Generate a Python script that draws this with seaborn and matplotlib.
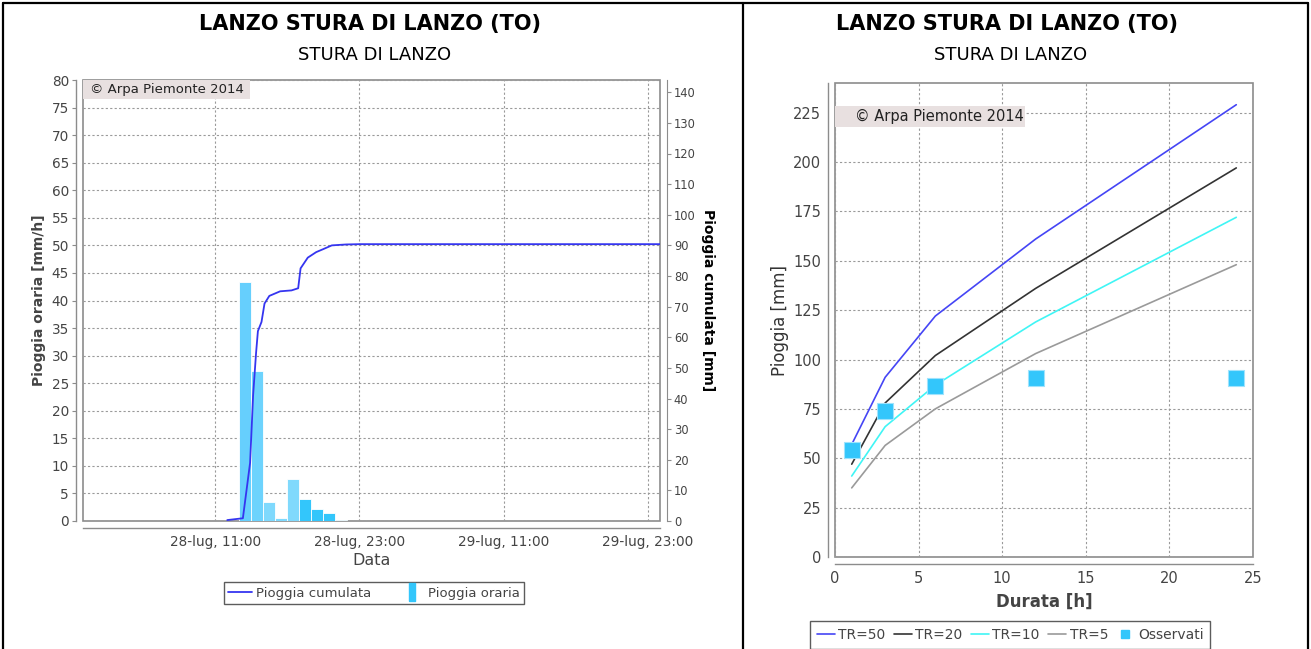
import numpy as np
import pandas as pd
import matplotlib
matplotlib.use("Agg")
import matplotlib.pyplot as plt
import matplotlib.dates as mdates
from matplotlib.lines import Line2D
from matplotlib.patches import Rectangle
import seaborn as sns

# ---------------- data ----------------
title = "LANZO STURA DI LANZO (TO)"
subtitle = "STURA DI LANZO"
copyright_text = "© Arpa Piemonte 2014"

x_start = "2014-07-28 00:00"
x_end = "2014-07-30 00:00"

bar_start_times = ["2014-07-28 13:00", "2014-07-28 14:00", "2014-07-28 15:00",
                   "2014-07-28 16:00", "2014-07-28 17:00", "2014-07-28 18:00",
                   "2014-07-28 19:00", "2014-07-28 20:00", "2014-07-28 21:00"]
hourly_rain = [43.4, 27.2, 3.5, 0.6, 7.6, 4.0, 2.2, 1.5, 0.2]

cum_times = ["2014-07-28 12:00", "2014-07-28 13:18", "2014-07-28 13:54",
             "2014-07-28 14:09", "2014-07-28 14:24", "2014-07-28 14:33",
             "2014-07-28 14:51", "2014-07-28 15:06", "2014-07-28 15:30",
             "2014-07-28 16:24", "2014-07-28 17:21", "2014-07-28 17:54",
             "2014-07-28 18:06", "2014-07-28 18:42", "2014-07-28 19:24",
             "2014-07-28 20:00", "2014-07-28 20:42", "2014-07-28 21:54",
             "2014-07-28 23:00", "2014-07-30 00:00"]
cum_rain = [0.3, 0.9, 19.0, 41.0, 55.0, 62.0, 65.0, 71.0, 73.5, 75.0, 75.3,
            76.0, 82.5, 86.0, 87.8, 88.8, 90.0, 90.3, 90.4, 90.4]

xtick_times = ["2014-07-28 11:00", "2014-07-28 23:00",
               "2014-07-29 11:00", "2014-07-29 23:00"]
xtick_labels = ["28-lug, 11:00", "28-lug, 23:00", "29-lug, 11:00", "29-lug, 23:00"]

durations = [1, 3, 6, 12, 24]
tr50 = [57, 91, 122, 161, 229]
tr20 = [47, 78, 102, 136, 197]
tr10 = [41, 66, 87, 119, 172]
tr5 = [35, 56.5, 75, 103, 148]
observed = [54, 74, 86.5, 90.4, 90.4]
tr_labels = ["TR=50", "TR=20", "TR=10", "TR=5"]
obs_label = "Osservati"

# ---------------- style ----------------
sns.set_style("white")
plt.rcParams["font.family"] = ["DejaVu Sans"]
W, H = 1311, 649
fig = plt.figure(figsize=(W / 100, H / 100), dpi=100)

frame_col = "#8c8c8c"
grid_kw = dict(color="#9a9a9a", linestyle=(0, (2, 2)), linewidth=0.8)
tick_col = "#444444"
bar_colors = ["#66cffd", "#6dd3fd", "#7fd9fd", "#7fd9fd", "#80d9fc",
              "#33c6fb", "#33c6fb", "#33c6fb", "#33c6fb"]


def fig_axes(x0, y0, x1, y1):
    return fig.add_axes([x0 / W, 1 - y1 / H, (x1 - x0) / W, (y1 - y0) / H])


def frame(ax):
    ax.patch.set_edgecolor(frame_col)
    ax.patch.set_linewidth(1.2)
    for s in ["top", "right"]:
        ax.spines[s].set_visible(False)
    for s in ["left", "bottom"]:
        ax.spines[s].set_position(("outward", 5))
        ax.spines[s].set_color(frame_col)
        ax.spines[s].set_linewidth(1.0)
    ax.tick_params(colors=frame_col, labelcolor=tick_col, length=3, width=0.8, pad=2)


# ---------------- left chart ----------------
axL = fig_axes(83, 80, 660, 521)
frame(axL)
bx = mdates.date2num(pd.to_datetime(bar_start_times))
axL.bar(bx, hourly_rain, width=1 / 24, align="edge", color=bar_colors,
        edgecolor="white", linewidth=0.6, zorder=2)
axL.set_ylim(0, 80)
axL.set_yticks(np.arange(0, 81, 5))
axL.set_xlim(mdates.date2num(pd.Timestamp(x_start)), mdates.date2num(pd.Timestamp(x_end)))
axL.set_xticks(mdates.date2num(pd.to_datetime(xtick_times)))
axL.set_xticklabels(xtick_labels)
axL.tick_params(labelsize=9.8)
axL.grid(True, **grid_kw)
axL.set_axisbelow(True)
axL.set_xlabel("Data", fontsize=11.5, color=tick_col, labelpad=3)
axL.set_ylabel("Pioggia oraria [mm/h]", fontsize=10, fontweight="bold",
               color=tick_col, labelpad=4)

axR = axL.twinx()
for s in ["top", "left", "bottom"]:
    axR.spines[s].set_visible(False)
axR.spines["right"].set_position(("outward", 5))
axR.spines["right"].set_color(frame_col)
cx = mdates.date2num(pd.to_datetime(cum_times))
sns.lineplot(x=cx, y=cum_rain, ax=axR, color="#3535f0", linewidth=1.3)
axR.set_ylim(0, 144)
axR.set_yticks(np.arange(0, 141, 10))
axR.tick_params(colors=frame_col, labelcolor=tick_col, length=3, width=0.8,
                labelsize=8.3, pad=2)
axR.set_ylabel("Pioggia cumulata [mm]", rotation=270, fontsize=10,
               fontweight="bold", color="black", labelpad=14)
axR.grid(False)

axL.add_patch(Rectangle((0, 0.957), 0.289, 0.043, transform=axL.transAxes,
                        facecolor="#e8e0e0", edgecolor="none", zorder=1))
axL.text(0.012, 0.978, copyright_text, transform=axL.transAxes, fontsize=9.5,
         color="#222222", va="center", ha="left", zorder=3)

# ---------------- right chart ----------------
axD = fig_axes(835, 83, 1253, 557)
frame(axD)
colors_tr = ["#4545f5", "#333333", "#40f5f5", "#9a9a9a"]
for vals, lab, col in zip([tr50, tr20, tr10, tr5], tr_labels, colors_tr):
    sns.lineplot(x=durations, y=vals, ax=axD, color=col, linewidth=1.2, label=lab)
sns.scatterplot(x=durations, y=observed, ax=axD, marker="s", s=120,
                color="#33c6fb", edgecolor="#9fe3fd", linewidth=0.8,
                zorder=5, label=obs_label)
axD.get_legend().remove()
axD.set_xlim(0, 25)
axD.set_ylim(0, 240)
axD.set_xticks(np.arange(0, 26, 5))
axD.set_yticks(np.arange(0, 226, 25))
axD.tick_params(labelsize=10.5)
axD.grid(True, **grid_kw)
axD.set_axisbelow(True)
axD.set_xlabel("Durata [h]", fontsize=12, fontweight="bold", color=tick_col, labelpad=5)
axD.set_ylabel("Pioggia [mm]", fontsize=12, color="#333333", labelpad=3)
axD.add_patch(Rectangle((0, 0.907), 0.455, 0.044, transform=axD.transAxes,
                        facecolor="#e8e0e0", edgecolor="none", zorder=1))
axD.text(0.048, 0.929, copyright_text, transform=axD.transAxes, fontsize=10.5,
         color="#222222", va="center", ha="left", zorder=3)

# ---------------- titles ----------------
for cx_, cx2 in [(370, 375), (1007, 1011)]:
    fig.text(cx_ / W, 1 - 24 / H, title, ha="center", va="center",
             fontsize=15, fontweight="heavy", color="black")
    fig.text(cx2 / W, 1 - 55 / H, subtitle, ha="center", va="center",
             fontsize=13, color="black")

# ---------------- legends ----------------
rect_marker = [(-0.35, -1), (0.35, -1), (0.35, 1), (-0.35, 1), (-0.35, -1)]
hL = [Line2D([], [], color="#3535f0", lw=1.3),
      Line2D([], [], linestyle="none", marker=rect_marker, markersize=13,
             markerfacecolor="#33c6fb", markeredgecolor="#33c6fb")]
legL = fig.legend(hL, ["Pioggia cumulata", "Pioggia oraria"], loc="center",
                  bbox_to_anchor=(374 / W, 1 - 593 / H), ncol=2, frameon=True,
                  fancybox=False, fontsize=9.5, handlelength=1.8,
                  handletextpad=0.3, columnspacing=2.2, borderpad=0.35,
                  borderaxespad=0)
legL.get_frame().set_edgecolor("#333333")
legL.get_frame().set_linewidth(1.0)
for t in legL.get_texts():
    t.set_color(tick_col)

hR = [Line2D([], [], color=c, lw=1.2) for c in colors_tr] + \
     [Line2D([], [], linestyle="none", marker="s", markersize=6,
             markerfacecolor="#33c6fb", markeredgecolor="#33c6fb")]
legR = fig.legend(hR, tr_labels + [obs_label], loc="upper center",
                  bbox_to_anchor=(1010 / W, 1 - 621 / H), ncol=5, frameon=True,
                  fancybox=False, fontsize=10, handlelength=1.3,
                  handletextpad=0.25, columnspacing=0.6, borderpad=0.5,
                  borderaxespad=0)
legR.get_frame().set_edgecolor("#333333")
legR.get_frame().set_linewidth(1.0)
for t in legR.get_texts():
    t.set_color(tick_col)

# ---------------- outer frame ----------------
for (xa, ya, xb, yb) in [(3, 3, 1308, 3), (3, 3, 3, 649), (1308, 3, 1308, 649),
                         (743, 3, 743, 649)]:
    fig.add_artist(Line2D([xa / W, xb / W], [1 - ya / H, 1 - yb / H],
                          transform=fig.transFigure, color="black", lw=1.6))

fig.savefig("out.png", dpi=100)
